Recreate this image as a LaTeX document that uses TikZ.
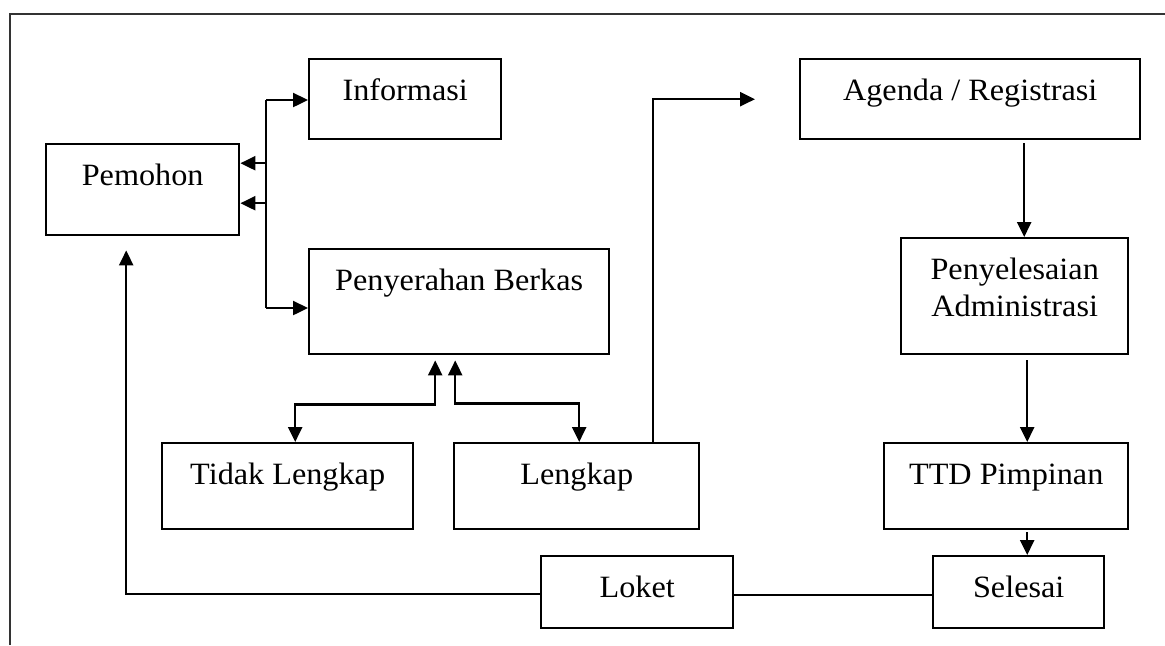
\documentclass[tikz,border=0pt]{standalone}
\usepackage{fontspec}
\setmainfont{Liberation Serif}[FakeStretch=1.04]
\usepackage{tikz}
\usetikzlibrary{arrows.meta}
\tikzstyle{box}=[rectangle, draw=black, line width=1.2pt, inner sep=0pt, anchor=north west,
        text centered, align=center, text height=20.5pt, font=\fontsize{15.5}{18.5}\selectfont]
\tikzstyle{myarrow}=[-{Triangle[length=7.5pt,width=7pt]}, line width=1.2pt]
\tikzstyle{dblarrow}=[{Triangle[length=7.5pt,width=7pt]}-{Triangle[length=7.5pt,width=7pt]}, line width=1.2pt]
\tikzstyle{line}=[-, line width=1.2pt]

\begin{document}
\begin{tikzpicture}[x=0.5pt, y=-0.5pt]
    \useasboundingbox (0,0) rectangle (1165,645);
    % frame
    \draw[line, black!80] (10,645) |- (1165,14);

    \node (Pemohon) [box, minimum width=96.5pt, text depth=25pt] at (45,143) {Pemohon};
    \node (Informasi) [box, minimum width=96pt, text depth=19.5pt] at (308,58) {Informasi};
    \node (Berkas) [box, minimum width=150pt, text depth=32pt] at (308,248) {Penyerahan Berkas};
    \node (Tidak) [box, minimum width=125.5pt, text depth=22.5pt] at (161,442) {Tidak Lengkap};
    \node (Lengkap) [box, minimum width=122.5pt, text depth=22.5pt] at (453,442) {Lengkap};
    \node (Loket) [box, minimum width=96pt, text depth=15.5pt] at (540,555) {Loket};
    \node (Agenda) [box, minimum width=170pt, text depth=19.5pt] at (799,58) {Agenda / Registrasi};
    \node (Admin) [box, minimum width=113.5pt, text height=39pt, text depth=19pt] at (900,237) {Penyelesaian\\Administrasi};
    \node (TTD) [box, minimum width=122pt, text depth=22.5pt] at (883,442) {TTD Pimpinan};
    \node (Selesai) [box, minimum width=85.5pt, text depth=15.5pt] at (932,555) {Selesai};

    % split beside Pemohon
    \coordinate (splitT) at (266,100);
    \coordinate (splitB) at (266,308);
    \draw[line] (splitT) -- (splitB);
    \draw[myarrow] (splitT) -- (splitT -| Informasi.west);
    \draw[myarrow] ([yshift=13.25pt]Pemohon.east -| splitT) -- ([yshift=13.25pt]Pemohon.east);
    \draw[myarrow] ([yshift=-6.75pt]Pemohon.east -| splitT) -- ([yshift=-6.75pt]Pemohon.east);
    \draw[myarrow] (splitB) -- (splitB -| Berkas.west);

    % berkas check
    \draw[dblarrow, shorten >=2.5pt] ([xshift=3.75pt]Tidak.north) |- ([xshift=-12pt,yshift=-24.5pt]Berkas.south)
        -- ([xshift=-12pt]Berkas.south);
    \draw[dblarrow, shorten <=2.5pt] ([xshift=-2pt]Berkas.south) -- ([xshift=-2pt,yshift=-24pt]Berkas.south)
        -| ([xshift=1.25pt]Lengkap.north);

    % main flow
    \draw[myarrow, shorten >=22pt] ([xshift=38.25pt]Lengkap.north) |- (Agenda.west);
    \draw[myarrow, shorten <=1.5pt] ([xshift=4.75pt]Admin.north |- Agenda.south) -- ([xshift=4.75pt]Admin.north);
    \draw[myarrow, shorten <=2.5pt] ([xshift=10.5pt]TTD.north |- Admin.south) -- ([xshift=10.5pt]TTD.north);
    \draw[myarrow, shorten <=1pt] ([xshift=10.5pt]TTD.south) -- ([xshift=10.5pt]TTD.south |- Selesai.north);
    \draw[line] ([yshift=-1.5pt]Loket.east) -- ([yshift=-1.5pt]Selesai.west);
    \draw[myarrow] ([yshift=-1pt]Loket.west) -| ([xshift=-8.25pt,yshift=-7pt]Pemohon.south);
\end{tikzpicture}
\end{document}
